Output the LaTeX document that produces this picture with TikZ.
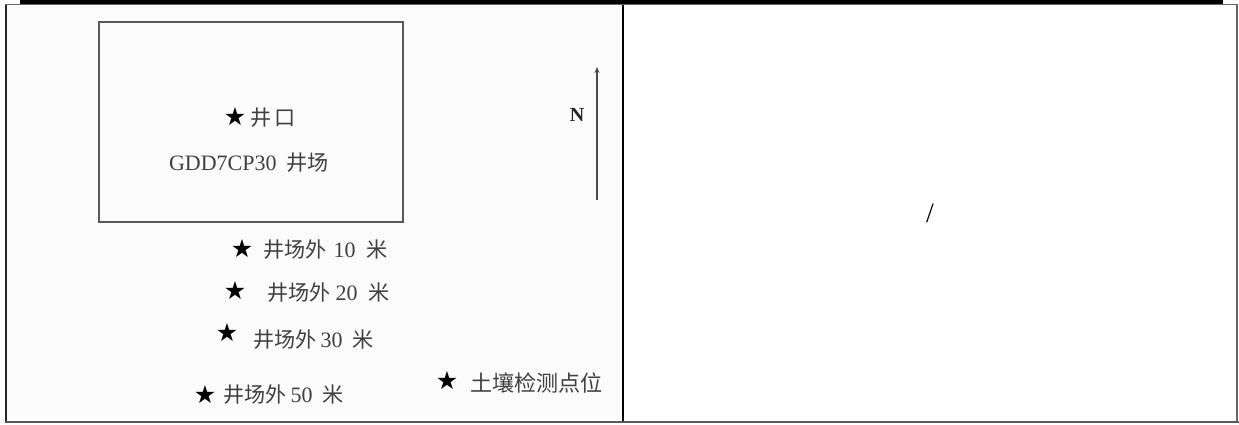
\documentclass[tikz,border=0pt]{standalone}
\usepackage{fontspec}
\setmainfont{Liberation Serif}
\newfontfamily\cjk[Scale=0.96]{Noto Sans CJK SC}
\newfontfamily\symf{DejaVu Sans}
\usetikzlibrary{arrows.meta}
\begin{document}
\begin{tikzpicture}[x=1pt,y=-1pt,
  lbl/.style={inner sep=0pt, anchor=west, text=black!75, font=\fontsize{22}{22}\selectfont},
  starnode/.style={inner sep=0pt, text=black, font=\symf\fontsize{25}{25}\selectfont},
  frame/.style={line width=1.3pt, draw=black!65},
  rule/.style={line width=1.5pt, draw=black}]
\useasboundingbox (0,0) rectangle (1239,425);
\fill[white] (0,0) rectangle (1239,425);
\fill[black!1.5] (7,6) rectangle (622,420);
% table borders
\fill[black] (20,0) rectangle (1223,4.5);
\draw[line width=1pt, draw=black!60] (5,5) -- (1238,5);
\draw[line width=1.2pt, draw=black!85] (6,5) -- (6,422);
\draw[line width=2pt, draw=black!65] (5,422) -- (1239,422);
\draw[rule] (623,5) -- (623,421);
\draw[line width=2.5pt, draw=black!60] (1237,4) -- (1237,422);
% well site box
\node[frame, minimum width=304pt, minimum height=200pt, inner sep=0pt] (site) at (251,122) {};
\node[starnode] (s0) at (235,117) {★};
\node[lbl] (l0) at (250,118) {{\cjk 井}\hspace{3pt}{\cjk 口}};
\node[lbl, anchor=center] (name) at (249,163) {GDD7CP30\hspace{10pt}{\cjk 井场}};
% north arrow
\node[inner sep=0pt, text=black!85, font=\bfseries\fontsize{20}{20}\selectfont] (N) at (577,115) {N};
\coordinate (ntail) at (597,200);
\coordinate (nhead) at (597,67);
\draw[line width=1.1pt, draw=black!70, -{Stealth[length=6pt,width=5pt]}] (ntail) -- (nhead);
% sampling points
\node[starnode] (s10) at (242,249) {★};
\node[lbl] (l10) at (263,250) {{\cjk 井场外}\hspace{7pt}10\hspace{11pt}{\cjk 米}};
\node[starnode] (s20) at (235,291) {★};
\node[lbl] (l20) at (267,293) {{\cjk 井场外}\hspace{5pt}20\hspace{11pt}{\cjk 米}};
\node[starnode] (s30) at (227,333) {★};
\node[lbl] (l30) at (253,340) {{\cjk 井场外}\hspace{4pt}30\hspace{10pt}{\cjk 米}};
\node[starnode] (s50) at (205,395) {★};
\node[lbl] (l50) at (223,395) {{\cjk 井场外}\hspace{4pt}50\hspace{10pt}{\cjk 米}};
\node[starnode] (sso) at (447,381) {★};
\node[lbl, font=\fontsize{23}{23}\selectfont] (lso) at (470,383) {{\cjk 土壤检测点位}};
% right cell
\node[inner sep=0pt, font=\fontsize{28}{28}\selectfont] (slash) at (930,213) {/};
\end{tikzpicture}
\end{document}
